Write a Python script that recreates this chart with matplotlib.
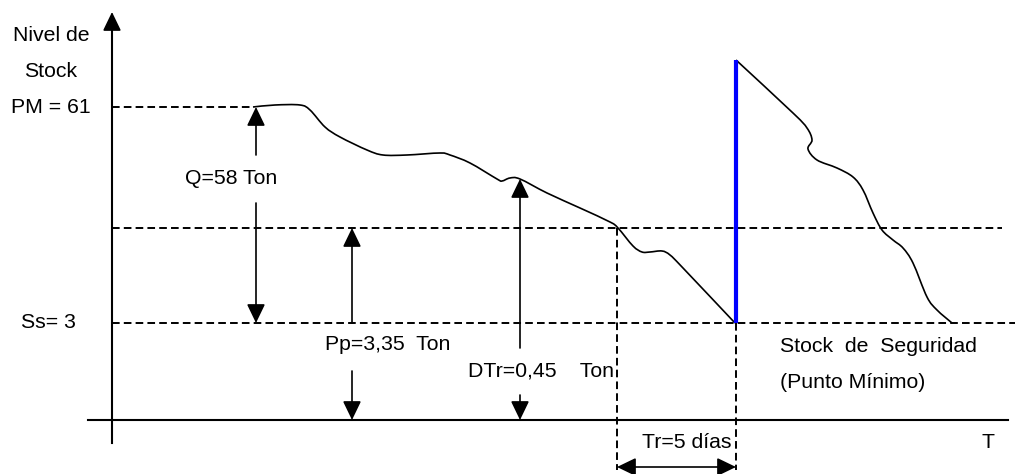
import matplotlib
matplotlib.use("Agg")
import matplotlib.pyplot as plt
import numpy as np
from matplotlib.path import Path
from matplotlib.patches import PathPatch

plt.rcParams['font.family'] = ['Liberation Sans', 'DejaVu Sans']
plt.rcParams['lines.scale_dashes'] = False

# ---- diagram data (pixel-like coordinates of the sketch) ----
# first consumption cycle (x, y)
cycle1_x = [253, 275, 300, 310, 325, 340, 367, 383, 407, 440, 450, 470, 497, 502, 510, 520,
            547, 580, 610, 618, 633, 642, 650, 662, 670, 683, 735]
cycle1_y = [107, 105, 105, 110, 127, 137, 150, 155, 155, 153, 155, 163, 179, 181, 178, 179,
            193, 208, 222, 228, 246, 252, 252, 251, 255, 268, 323]
# second consumption cycle
cycle2_x = [736, 793, 807, 812, 808, 817, 837, 853, 863, 873, 882, 893, 903, 913, 927, 937, 952]
cycle2_y = [60, 113, 128, 140, 149, 160, 168, 177, 190, 213, 230, 240, 248, 263, 297, 310, 323]

# reference levels
y_pm, y_pp, y_ss, y_axis = 107, 228, 323, 420
x_axis = 112
x_order, x_arrival = 617, 736
y_restock_top = 60

labels_left = ["Nivel de", "Stock", "PM = 61"]
labels_left_y = [35, 71, 107]

fig = plt.figure(figsize=(10.15, 4.74), dpi=100)
ax = fig.add_axes([0, 0, 1, 1])
ax.set_xlim(0, 1015)
ax.set_ylim(474, 0)
ax.axis('off')

LW = 1.2
FS = 15.3

def smooth(ax, xs, ys, **kw):
    pts = np.column_stack([xs, ys]).astype(float)
    n = len(pts)
    verts = [pts[0]]
    codes = [Path.MOVETO]
    for i in range(n - 1):
        p0 = pts[i - 1] if i > 0 else pts[i]
        p1 = pts[i]
        p2 = pts[i + 1]
        p3 = pts[i + 2] if i + 2 < n else pts[i + 1]
        c1 = p1 + (p2 - p0) / 6.0
        c2 = p2 - (p3 - p1) / 6.0
        verts += [c1, c2, p2]
        codes += [Path.CURVE4] * 3
    ax.add_patch(PathPatch(Path(verts, codes), fill=False, **kw))

AST = '-|>,head_length=0.58,head_width=0.28'

def arrow(x0, y0, x1, y1, style=AST):
    ax.annotate('', xy=(x1, y1), xytext=(x0, y0),
                arrowprops=dict(arrowstyle=style, mutation_scale=20, lw=LW,
                                color='black', shrinkA=0, shrinkB=0))

dash = dict(color='black', lw=1.4, linestyle=(0, (5.5, 3)))

# axes of the diagram
ax.plot([88, 1008], [y_axis, y_axis], color='black', lw=1.5)
arrow(1000, y_axis, 1022, y_axis)
ax.plot([x_axis, x_axis], [443, 25], color='black', lw=1.5)
arrow(x_axis, 30, x_axis, 12)

# dashed reference lines
ax.plot([x_axis, 253], [y_pm, y_pm], **dash)
ax.plot([x_axis, 1002], [y_pp, y_pp], **dash)
ax.plot([x_axis, 1015], [y_ss, y_ss], **dash)
ax.plot([x_order, x_order], [y_pp, 470], **dash)
ax.plot([x_arrival, x_arrival], [y_ss, 470], **dash)

# stock curves
smooth(ax, cycle1_x, cycle1_y, color='black', lw=LW)
smooth(ax, cycle2_x, cycle2_y, color='black', lw=LW)
ax.plot([x_arrival, x_arrival], [y_ss, y_restock_top], color=(0, 0, 1), lw=3.0,
        solid_capstyle='butt')

# Q arrows
arrow(256, 155, 256, y_pm)
arrow(256, 203, 256, y_ss)
ax.text(185, 178, "Q=58 Ton", fontsize=FS, ha='left', va='center')

# Pp arrows
arrow(352, y_ss, 352, y_pp)
arrow(352, 371, 352, y_axis)
ax.text(325, 345, "Pp=3,35  Ton", fontsize=FS, ha='left', va='center')

# DTr arrows
arrow(520, 348, 520, 179)
arrow(520, 395, 520, y_axis)
ax.text(468, 371, "DTr=0,45    Ton", fontsize=FS, ha='left', va='center')

# Tr arrow
arrow(x_order, 467, x_arrival, 467, style='<|-|>,head_length=0.58,head_width=0.28')
ax.text(642, 442, "Tr=5 días", fontsize=FS, ha='left', va='center')

# left labels
for t, y in zip(labels_left, labels_left_y):
    ax.text(51, y, t, fontsize=FS, ha='center', va='center')
ax.text(48, y_ss, "Ss= 3", fontsize=FS, ha='center', va='center')

ax.text(780, 346, "Stock  de  Seguridad", fontsize=FS, ha='left', va='center')
ax.text(780, 383, "(Punto Mínimo)", fontsize=FS, ha='left', va='center')
ax.text(982, 442, "T", fontsize=FS, ha='left', va='center')

fig.savefig("out.png", dpi=100)
